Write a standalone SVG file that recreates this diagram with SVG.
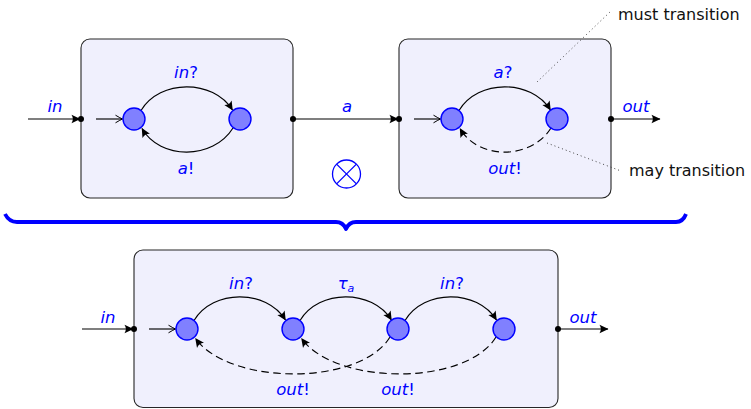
<svg xmlns="http://www.w3.org/2000/svg" width="751" height="409" viewBox="0 0 751 409">
<style>
.box{fill:#f0f0fd;stroke:#262626;stroke-width:1.1}
.st{fill:#8080ff;stroke:#0000ff;stroke-width:1.4}
.port{fill:#000}
.e{fill:none;stroke:#000;stroke-width:1.15}
.d{stroke-dasharray:7.5 4.5}
.dot{fill:none;stroke:#444;stroke-width:1;stroke-dasharray:1 3}
.lb{font-family:"DejaVu Sans",sans-serif;font-size:16.5px;fill:#0000ff;font-style:oblique;text-anchor:middle}
.up{font-style:normal}
.note{font-family:"DejaVu Sans",sans-serif;font-size:16px;fill:#111}
</style>
<defs>
<marker id="ah" markerUnits="userSpaceOnUse" markerWidth="14" markerHeight="14" viewBox="-11 -7 14 14" refX="0" refY="0" orient="auto">
<path d="M0.5,0 L-8.5,-4.3 Q-5.8,0 -8.5,4.3 Z" fill="#000"/>
</marker>
<marker id="oh" markerUnits="userSpaceOnUse" markerWidth="12" markerHeight="12" viewBox="-9 -6 12 12" refX="0" refY="0" orient="auto">
<path d="M-7,-3.8 Q-2,-0.8 0,0 Q-2,0.8 -7,3.8" fill="none" stroke="#000" stroke-width="1"/>
</marker>
</defs>

<g id="boxA">
<rect class="box" x="81" y="39" width="212" height="159" rx="9"/>
</g>
<g id="boxB">
<rect class="box" x="399" y="39" width="212" height="159" rx="9"/>
</g>
<g id="boxC">
<rect class="box" x="134" y="250" width="424" height="157.5" rx="9"/>
</g>

<g id="connectors">
<line class="e" x1="28" y1="119" x2="80" y2="119" marker-end="url(#ah)"/>
<line class="e" x1="96" y1="119" x2="122.5" y2="119" marker-end="url(#oh)"/>
<path class="e" d="M141,110.5 C160,79 213,79 232.5,110" marker-end="url(#ah)"/>
<path class="e" d="M233,128 C213,160 160,160 142,128.5" marker-end="url(#ah)"/>
<line class="e" x1="293" y1="119" x2="398" y2="119" marker-end="url(#ah)"/>
<line class="e" x1="414" y1="119" x2="440.5" y2="119" marker-end="url(#oh)"/>
<path class="e" d="M459,110.5 C478,79 531,79 550.5,110" marker-end="url(#ah)"/>
<path class="e d" d="M551,128 C531,160 478,160 460,128.5" marker-end="url(#ah)"/>
<line class="e" x1="611" y1="119" x2="660" y2="119" marker-end="url(#ah)"/>
<line class="dot" x1="537" y1="82" x2="611" y2="11"/>
<line class="dot" x1="547" y1="143" x2="621" y2="171"/>
<line class="e" x1="82" y1="329" x2="133" y2="329" marker-end="url(#ah)"/>
<line class="e" x1="149" y1="329" x2="175.5" y2="329" marker-end="url(#oh)"/>
<path class="e" d="M194,320.5 C213,289 266,289 285.5,320" marker-end="url(#ah)"/>
<path class="e" d="M300,320.5 C319,289 372,289 391.5,320" marker-end="url(#ah)"/>
<path class="e" d="M405,320.5 C424,289 477,289 496.5,320" marker-end="url(#ah)"/>
<path class="e d" d="M390,337 C360,386 230,386 195.5,338.5" marker-end="url(#ah)"/>
<path class="e d" d="M496,337 C466,386 336,386 301.5,338.5" marker-end="url(#ah)"/>
<line class="e" x1="558" y1="329" x2="608" y2="329" marker-end="url(#ah)"/>
</g>

<g id="ports">
<circle class="port" cx="81" cy="119" r="3"/>
<circle class="port" cx="293" cy="119" r="3"/>
<circle class="port" cx="399" cy="119" r="3"/>
<circle class="port" cx="611" cy="119" r="3"/>
<circle class="port" cx="134" cy="329" r="3"/>
<circle class="port" cx="558" cy="329" r="3"/>
</g>

<g id="A1"><circle class="st" cx="134" cy="119" r="11"/></g>
<g id="A2"><circle class="st" cx="240" cy="119" r="11"/></g>
<g id="B1"><circle class="st" cx="452" cy="119" r="11"/></g>
<g id="B2"><circle class="st" cx="557" cy="119" r="11"/></g>
<g id="C1"><circle class="st" cx="187" cy="329" r="11"/></g>
<g id="C2"><circle class="st" cx="293" cy="329" r="11"/></g>
<g id="C3"><circle class="st" cx="398" cy="329" r="11"/></g>
<g id="C4"><circle class="st" cx="504" cy="329" r="11"/></g>

<g id="labels">
<text class="lb" x="55" y="112">in</text>
<text class="lb" x="186" y="78">in<tspan class="up">?</tspan></text>
<text class="lb" x="186" y="174">a<tspan class="up">!</tspan></text>
<text class="lb" x="347" y="112">a</text>
<text class="lb" x="503" y="78">a<tspan class="up">?</tspan></text>
<text class="lb" x="505" y="174">out<tspan class="up">!</tspan></text>
<text class="lb" x="636" y="112">out</text>
<text class="lb" x="108" y="323">in</text>
<text class="lb" x="241" y="289">in<tspan class="up">?</tspan></text>
<text class="lb" x="346" y="289">τ<tspan font-size="11" dy="3">a</tspan></text>
<text class="lb" x="452" y="289">in<tspan class="up">?</tspan></text>
<text class="lb" x="293" y="395">out<tspan class="up">!</tspan></text>
<text class="lb" x="398" y="395">out<tspan class="up">!</tspan></text>
<text class="lb" x="583" y="323">out</text>
<text class="note" x="618" y="20">must transition</text>
<text class="note" x="629" y="176">may transition</text>
</g>

<g id="otimes" fill="none" stroke="#0000ff" stroke-width="1.3">
<circle cx="346.5" cy="174" r="14"/>
<line x1="336.6" y1="164.1" x2="356.4" y2="183.9"/>
<line x1="336.6" y1="183.9" x2="356.4" y2="164.1"/>
</g>

<g id="brace">
<path d="M5,214 Q9,222 17,222 L336,222 Q343,222 346,229 Q349,222 356,222 L676,222 Q683,222 686,214" fill="none" stroke="#0000ff" stroke-width="3.8" stroke-linejoin="round"/>
</g>
</svg>
